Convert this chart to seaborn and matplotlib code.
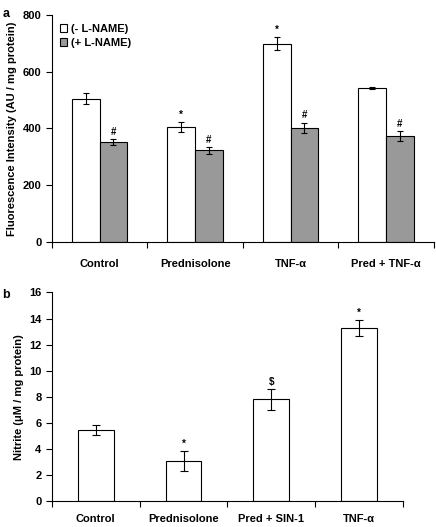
import numpy as np
import pandas as pd
import matplotlib
matplotlib.use("Agg")
import matplotlib.pyplot as plt
import seaborn as sns

sns.set_style("ticks")
plt.rcParams['font.family'] = ['Liberation Sans', 'DejaVu Sans']
plt.rcParams['font.weight'] = 'bold'
for k in ("text.color", "axes.labelcolor", "xtick.color", "ytick.color", "axes.edgecolor"):
    plt.rcParams[k] = "black"

# panel a data
groups_a = ["Control", "Prednisolone", "TNF-\u03b1", "Pred + TNF-\u03b1"]
conditions_a = ["(- L-NAME)", "(+ L-NAME)"]
minus_lname = [505, 405, 698, 543]
minus_lname_err = [20, 17, 22, 4]
plus_lname = [352, 322, 402, 373]
plus_lname_err = [10, 12, 18, 18]
minus_marks = ["", "*", "*", ""]
plus_marks = ["#", "#", "#", "#"]

# panel b data
groups_b = ["Control", "Prednisolone", "Pred + SIN-1", "TNF-\u03b1"]
nitrite = [5.45, 3.1, 7.8, 13.3]
nitrite_err = [0.4, 0.75, 0.8, 0.6]
nitrite_marks = ["", "*", "$", "*"]

fig = plt.figure(figsize=(4.36, 5.27), dpi=100)
ax1 = fig.add_axes([0.119, 0.541, 0.876, 0.431])
ax2 = fig.add_axes([0.119, 0.049, 0.805, 0.396])

# --- panel a
df_a = pd.DataFrame({
    "group": groups_a * 2,
    "cond": [conditions_a[0]] * 4 + [conditions_a[1]] * 4,
    "value": minus_lname + plus_lname,
})
sns.barplot(df_a, x="group", y="value", hue="cond", ax=ax1, width=0.58,
            palette=["white", "#999999"], edgecolor="black", linewidth=0.8,
            errorbar=None)
bars = ax1.patches[:8]
vals = minus_lname + plus_lname
errs = minus_lname_err + plus_lname_err
marks = minus_marks + plus_marks
for b, v, e, m in zip(bars, vals, errs, marks):
    xc = b.get_x() + b.get_width() / 2
    ax1.errorbar(xc, v, yerr=e, color="black", capsize=2.5, elinewidth=0.8, capthick=0.8)
    if m:
        ax1.text(xc, v + e + 8, m, ha="center", va="bottom", fontsize=7)
ax1.set_ylim(0, 800)
ax1.set_yticks([0, 200, 400, 600, 800])
ax1.set_ylabel("Fluorescence Intensity (AU / mg protein)", fontsize=8, fontweight="bold")
ax1.set_xlabel("")
leg = ax1.legend(loc="upper left", bbox_to_anchor=(0.0, 0.995), frameon=False, fontsize=8,
                 handlelength=0.7, handleheight=0.7, handletextpad=0.3, labelspacing=0.4,
                 borderaxespad=0.3)
for t in leg.get_texts():
    t.set_fontweight("bold")

# --- panel b
df_b = pd.DataFrame({"group": groups_b, "value": nitrite})
sns.barplot(df_b, x="group", y="value", ax=ax2, width=0.41, color="white",
            edgecolor="black", linewidth=0.8, errorbar=None)
for b, v, e, m in zip(ax2.patches, nitrite, nitrite_err, nitrite_marks):
    xc = b.get_x() + b.get_width() / 2
    ax2.errorbar(xc, v, yerr=e, color="black", capsize=3, elinewidth=0.8, capthick=0.8)
    if m:
        ax2.text(xc, v + e + 0.15, m, ha="center", va="bottom", fontsize=7)
ax2.set_ylim(0, 16)
ax2.set_yticks(range(0, 17, 2))
ax2.set_ylabel("Nitrite (\u03bcM / mg protein)", fontsize=8, fontweight="bold")
ax2.set_xlabel("")

for ax, pad in ((ax1, 12), (ax2, 9)):
    sns.despine(ax=ax)
    ax.set_xlim(-0.5, 3.5)
    ax.set_xticks(np.arange(-0.5, 3.6, 1.0), minor=True)
    ax.tick_params(axis="x", which="major", length=0, pad=pad, labelsize=8)
    ax.tick_params(axis="x", which="minor", length=4, width=0.8, direction="out")
    ax.tick_params(axis="y", length=4, width=0.8, direction="out", labelsize=8)
    for lab in ax.get_xticklabels() + ax.get_yticklabels():
        lab.set_fontweight("bold")
    for s in ("left", "bottom"):
        ax.spines[s].set_linewidth(0.8)

fig.text(0.005, 0.985, "a", fontsize=9, fontweight="bold", va="top")
fig.text(0.005, 0.452, "b", fontsize=9, fontweight="bold", va="top")

fig.savefig("out.png", dpi=100)
